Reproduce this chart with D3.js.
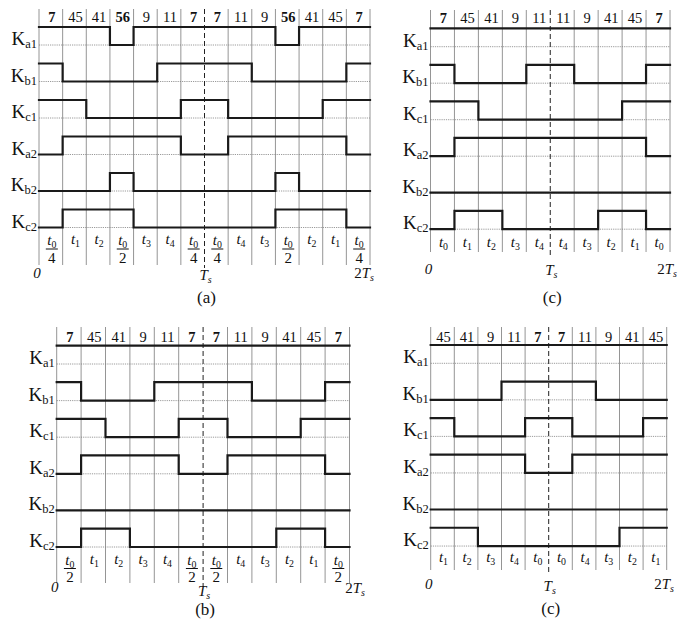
<!DOCTYPE html>
<html><head><meta charset="utf-8">
<script src="https://cdn.jsdelivr.net/npm/d3@7"></script>
<style>
body{margin:0;background:#fff}
svg{display:block}
svg text{font-family:"Liberation Serif","Times New Roman",Times,serif;fill:#111}
</style>
</head><body>
<svg id="chart" width="694" height="634" font-family="Liberation Serif"></svg>
<script>
// ---------- DATA ----------
const rowNames = ["a1","b1","c1","a2","b2","c2"];

// Panel (a)
const codesA = ["7","45","41","56","9","11","7","7","11","9","56","41","45","7"];
const timesA = ["t0/4","t1","t2","t0/2","t3","t4","t0/4","t0/4","t4","t3","t0/2","t2","t1","t0/4"];
const Ka1A = [1,1,1,0,1,1,1,1,1,1,0,1,1,1];
const Kb1A = [1,0,0,0,0,1,1,1,1,0,0,0,0,1];
const Kc1A = [1,1,0,0,0,0,1,1,0,0,0,0,1,1];
const Ka2A = [0,1,1,1,1,1,0,0,1,1,1,1,1,0];
const Kb2A = [0,0,0,1,0,0,0,0,0,0,1,0,0,0];
const Kc2A = [0,1,1,1,0,0,0,0,0,0,1,1,1,0];

// Panel (c) top-right
const codesC1 = ["7","45","41","9","11","11","9","41","45","7"];
const timesC1 = ["t0","t1","t2","t3","t4","t4","t3","t2","t1","t0"];
const Ka1C1 = [1,1,1,1,1,1,1,1,1,1];
const Kb1C1 = [1,0,0,0,1,1,0,0,0,1];
const Kc1C1 = [1,1,0,0,0,0,0,0,1,1];
const Ka2C1 = [0,1,1,1,1,1,1,1,1,0];
const Kb2C1 = [0,0,0,0,0,0,0,0,0,0];
const Kc2C1 = [0,1,1,0,0,0,0,1,1,0];

// Panel (b)
const codesB = ["7","45","41","9","11","7","7","11","9","41","45","7"];
const timesB = ["t0/2","t1","t2","t3","t4","t0/2","t0/2","t4","t3","t2","t1","t0/2"];
const Ka1B = [1,1,1,1,1,1,1,1,1,1,1,1];
const Kb1B = [1,0,0,0,1,1,1,1,0,0,0,1];
const Kc1B = [1,1,0,0,0,1,1,0,0,0,1,1];
const Ka2B = [0,1,1,1,1,0,0,1,1,1,1,0];
const Kb2B = [0,0,0,0,0,0,0,0,0,0,0,0];
const Kc2B = [0,1,1,0,0,0,0,0,0,1,1,0];

// Panel (c) bottom-right
const codesC2 = ["45","41","9","11","7","7","11","9","41","45"];
const timesC2 = ["t1","t2","t3","t4","t0","t0","t4","t3","t2","t1"];
const Ka1C2 = [1,1,1,1,1,1,1,1,1,1];
const Kb1C2 = [0,0,0,1,1,1,1,0,0,0];
const Kc1C2 = [1,0,0,0,1,1,0,0,0,1];
const Ka2C2 = [1,1,1,1,0,0,1,1,1,1];
const Kb2C2 = [0,0,0,0,0,0,0,0,0,0];
const Kc2C2 = [1,1,0,0,0,0,0,0,1,1];

const boldCodes = ["7","56"];

// ---------- LAYOUT ----------
const panels = [
  {codes:codesA, times:timesA, sig:[Ka1A,Kb1A,Kc1A,Ka2A,Kb2A,Kc2A], caption:"(a)",
   x0:39, x1:370, low0:45, sp:36.5, amp:18, numY:22, gTop:9, gBot:265,
   tY:244, numT:245, barY:249, denY:263, zeroY:278, tsY:280, ts2X:364, ts2Y:278, capY:303},
  {codes:codesC1, times:timesC1, sig:[Ka1C1,Kb1C1,Kc1C1,Ka2C1,Kb2C1,Kc2C1], caption:"(c)",
   x0:430.5, x1:670, low0:46.7, sp:36.5, amp:18.3, numY:23, gTop:10, gBot:252,
   tY:247, zeroY:274, tsY:275, ts2X:667, ts2Y:274, capY:303},
  {codes:codesB, times:timesB, sig:[Ka1B,Kb1B,Kc1B,Ka2B,Kb2B,Kc2B], caption:"(b)",
   x0:56.7, x1:349.5, low0:364, sp:36.6, amp:18.4, numY:342, gTop:327, gBot:583,
   tY:564, numT:565, barY:568.5, denY:582, zeroY:592, tsY:596, ts2X:355, ts2Y:593, capY:615},
  {codes:codesC2, times:timesC2, sig:[Ka1C2,Kb1C2,Kc1C2,Ka2C2,Kb2C2,Kc2C2], caption:"(c)",
   x0:430.7, x1:666.7, low0:363.3, sp:36.55, amp:18.3, numY:341.5, gTop:327, gBot:570,
   tY:562, zeroY:589, tsY:591, ts2X:664, ts2Y:589, capY:614}
];

const svg = d3.select("#chart");

function tLabel(g, x, y, str, fs) {
  const t = g.append("text").attr("x", x).attr("y", y).attr("text-anchor","middle")
    .style("font-size", fs+"px");
  t.append("tspan").style("font-style","italic").text("t");
  t.append("tspan").attr("dy", 3).style("font-size", (fs*0.66)+"px").text(str.slice(1));
}

panels.forEach(p => {
  const n = p.codes.length;
  const x = d3.scaleLinear().domain([0, n]).range([p.x0, p.x1]);
  const xm = x(n/2);
  const g = svg.append("g");
  const lows = rowNames.map((_, r) => p.low0 + r*p.sp);

  // vertical grid lines
  g.selectAll("line.v").data(d3.range(n+1).filter(i => i !== n/2)).join("line")
    .attr("x1", d => x(d)).attr("x2", d => x(d))
    .attr("y1", p.gTop).attr("y2", p.gBot)
    .attr("stroke", "#7a7a7a").attr("stroke-width", 0.8);

  // horizontal dotted baselines
  g.selectAll("line.h").data(lows).join("line")
    .attr("x1", p.x0).attr("x2", p.x1).attr("y1", d => d).attr("y2", d => d)
    .attr("stroke", "#808080").attr("stroke-width", 0.8).attr("stroke-dasharray", "1.2,1");

  // dashed Ts line
  g.append("line").attr("x1", xm).attr("x2", xm).attr("y1", p.gTop).attr("y2", p.gBot + 3)
    .attr("stroke", "#222").attr("stroke-width", 1).attr("stroke-dasharray", "5,3");

  // top code labels
  g.selectAll("text.code").data(p.codes).join("text")
    .attr("x", (d, i) => x(i + 0.5) + 1).attr("y", p.numY)
    .attr("text-anchor", "middle")
    .style("font-size", "14.5px")
    .style("font-weight", d => boldCodes.includes(d) ? "bold" : "normal")
    .text(d => d);

  // signals
  p.sig.forEach((vals, r) => {
    const y = d3.scaleLinear().domain([0, 1]).range([lows[r], lows[r] - p.amp]);
    const pts = vals.map((v, i) => [x(i), y(v)]).concat([[x(n), y(vals[n-1])]]);
    g.append("path").attr("d", d3.line().curve(d3.curveStepAfter)(pts))
      .attr("fill", "none").attr("stroke", "#1a1a1a").attr("stroke-width", 2.2)
      .attr("stroke-linejoin", "miter").attr("stroke-linecap", "square");

    const lab = g.append("text").attr("x", p.x0 - 2).attr("y", lows[r])
      .attr("text-anchor", "end").style("font-size", "19px");
    lab.append("tspan").text("K");
    lab.append("tspan").attr("dy", 3).style("font-size", "12.5px").text(rowNames[r]);
  });

  // bottom time labels
  p.times.forEach((s, i) => {
    const cx = x(i + 0.5) + 1;
    if (s.includes("/")) {
      const [num, den] = s.split("/");
      tLabel(g, cx, p.numT, num, 15);
      g.append("line").attr("x1", cx - 6).attr("x2", cx + 6).attr("y1", p.barY).attr("y2", p.barY)
        .attr("stroke", "#111").attr("stroke-width", 1);
      g.append("text").attr("x", cx).attr("y", p.denY).attr("text-anchor", "middle")
        .style("font-size", "15px").text(den);
    } else {
      tLabel(g, cx, p.tY, s, 15);
    }
  });

  // axis marks 0, Ts, 2Ts
  g.append("text").attr("x", p.x0 - 2).attr("y", p.zeroY).attr("text-anchor", "middle")
    .style("font-size", "15px").style("font-style", "italic").text("0");
  const ts = g.append("text").attr("x", xm + 1).attr("y", p.tsY).attr("text-anchor", "middle")
    .style("font-size", "15px").style("font-style", "italic");
  ts.append("tspan").text("T");
  ts.append("tspan").attr("dy", 3).style("font-size", "10px").text("s");
  const ts2 = g.append("text").attr("x", p.ts2X).attr("y", p.ts2Y).attr("text-anchor", "middle")
    .style("font-size", "15px").style("font-style", "italic");
  ts2.append("tspan").style("font-style", "normal").text("2");
  ts2.append("tspan").text("T");
  ts2.append("tspan").attr("dy", 3).style("font-size", "10px").text("s");

  // caption
  g.append("text").attr("x", xm + 2).attr("y", p.capY).attr("text-anchor", "middle")
    .style("font-size", "17px").text(p.caption);
});
</script>
</body></html>
